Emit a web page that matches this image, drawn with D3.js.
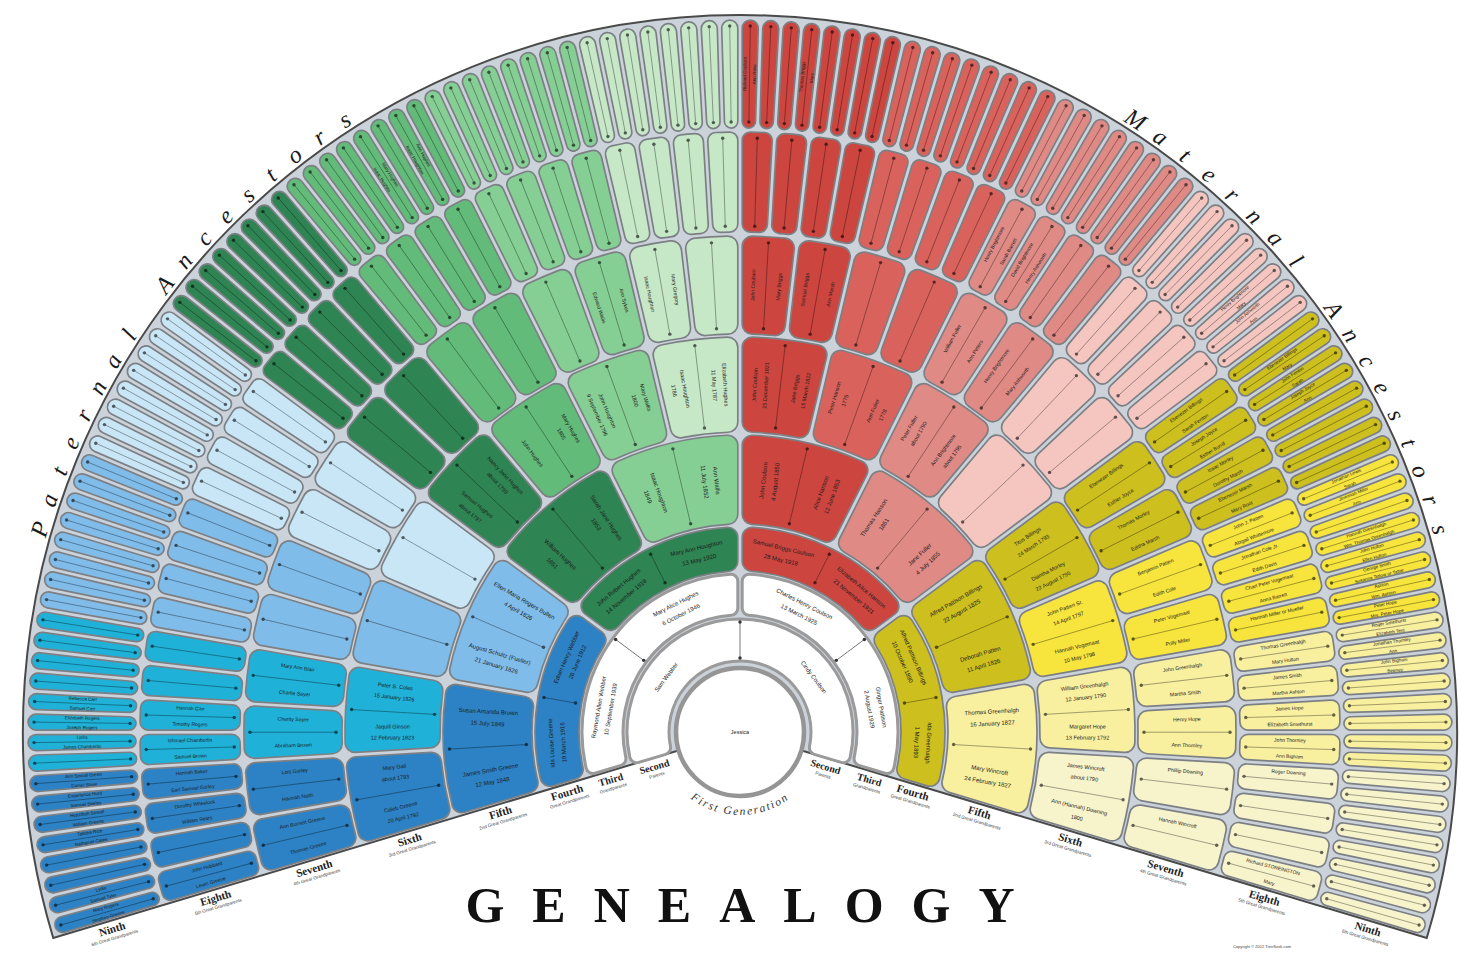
<!DOCTYPE html>
<html>
<head>
<meta charset="utf-8">
<script src="https://cdn.jsdelivr.net/npm/d3@7"></script>
<style>
  body { margin: 0; background: #fff; }
  svg { display: block; }
</style>
</head>
<body>
<svg id="chart" width="1459" height="953"></svg>
<script>
// ---- data ----
const generationOrdinals = ['Second', 'Third', 'Fourth', 'Fifth', 'Sixth', 'Seventh', 'Eighth', 'Ninth'];
const generationTitles = ['Parents', 'Grandparents', 'Great Grandparents', '2nd Great Grandparents',
  '3rd Great Grandparents', '4th Great Grandparents', '5th Great Grandparents', '6th Great Grandparents'];
const ringCells = [1, 2, 4, 8, 16, 32, 64, 128];
const ringInner = [71, 117, 161, 208, 300, 398, 500, 604];
const ringOuter = [113, 158, 205, 297, 395, 496, 600, 712];

// 16 branch colours, clockwise from the lower left
const branchColors = [
  '#2c82c4', '#1fb1d8', '#80bce9', '#c8e6f6',
  '#2e8452', '#62bb78', '#86cf94', '#c6e8c7',
  '#cd453f', '#d9625c', '#e08a85', '#f5c6c0',
  '#cdbf1e', '#f7e43c', '#f8ef9f', '#f7f3cb'
];

// couples: [cell index, first person, second person], lines split by "|"
const gen2Names = [[0, 'Sam Webber', 'Cindy Coulson']];
const gen3Names = [
  [0, 'Raymond Allen Webber|10 September 1939', 'Mary Alice Hughes|6 October 1946'],
  [1, 'Charles Henry Coulson|13 March 1925', 'Ginger Pattison|2 August 1929']
];
const gen4Names = [
  [0, 'Ida Louise Greene|19 March 1916', 'Edwin Henry Webber|26 June 1912'],
  [1, 'John Robert Hughes|14 November 1918', 'Mary Ann Houghton|13 May 1920'],
  [2, 'Samuel Briggs Coulson|28 May 1918', 'Elizabeth Alice Hanson|21 November 1921'],
  [3, 'Alfred Pattison Billings|10 October 1890', 'Ida Greenhalgh|1 May 1893']
];
const gen5Names = [
  [0, 'James Smith Greene|12 May 1848', 'Susan Amanda Brown|15 July 1849'],
  [1, 'August Schultz (Fueller)|21 January 1826', 'Ellen Maria Rogers Bullen|4 April 1826'],
  [2, 'William Hughes|1851', 'Sarah Jane Hughes|1853'],
  [3, 'Isaac Houghton|1849', 'Ann Wallis|11 July 1852'],
  [4, 'John Coulson|4 August 1850', 'Alice Hanson|12 June 1853'],
  [5, 'Thomas Hanson|1851', 'Jane Fuller|4 July 1855'],
  [6, 'Alfred Pattison Billings|22 August 1825', 'Deborah Patten|11 April 1826'],
  [7, 'Thomas Greenhalgh|16 January 1827', 'Mary Wincroft|24 February 1827']
];
const gen6Names = [
  [0, 'Caleb Greene|20 April 1792', 'Mary Gall|about 1793'],
  [1, 'Jaquill Ginson|12 February 1823', 'Peter S. Coles|15 January 1826'],
  [4, 'Samuel Hughes|about 1797', 'Nancy Jane Hughes|about 1799'],
  [5, 'John Hughes', 'Mary Hughes|1805'],
  [6, 'John Houghton|9 September 1796', 'Mary Wallis|1800'],
  [7, 'Isaac Houghton|1786', 'Elizabeth Hughes|11 May 1787'],
  [8, 'John Coulson|25 December 1821', 'Jane Briggs|15 March 1822'],
  [9, 'Peter Hanson|1775', 'Ann Fuller|1778'],
  [10, 'Peter Fuller|about 1790', 'Ann Brightmore|about 1795'],
  [12, 'Titus Billings|24 March 1793', 'Diantha Morley|22 August 1795'],
  [13, 'John Patten Sr.|14 April 1797', 'Hannah Vogemaat|10 May 1798'],
  [14, 'William Greenhalgh|12 January 1790', 'Margaret Hope|13 February 1792'],
  [15, 'James Wincroft|about 1790', 'Ann (Hannah) Downing|1800']
];
const gen7Names = [
  [0, 'Thomas Greene', 'Ann Burnett Greene'],
  [1, 'Hannah Nash', 'Lois Gurley'],
  [2, 'Abraham Brown', 'Charity Sayer'],
  [3, 'Charlie Sayer', 'Mary Ann Blair'],
  [13, 'Edward Wallis', 'Ann Sykes'],
  [14, 'Isaac Houghton', 'Mary Gregory'],
  [16, 'John Coulson', 'Mary Briggs'],
  [17, 'Samuel Briggs', 'Ann Marsh'],
  [20, 'William Fuller', 'Ann Peters'],
  [21, 'Henry Brightmore', 'Mary Ashworth'],
  [24, 'Ebenezer Billings', 'Esther Joyce'],
  [25, 'Thomas Morley', 'Editha Marsh'],
  [26, 'Benjamin Patten', 'Edith Cole'],
  [27, 'Peter Vogemaat', 'Polly Miller'],
  [28, 'John Greenhalgh', 'Martha Smith'],
  [29, 'Henry Hope', 'Ann Thornley'],
  [30, 'Phillip Downing', ''],
  [31, 'Hannah Wincroft', '']
];
const gen8Names = [
  [0, 'Lewis Greene', 'John Hubbard'],
  [2, 'William Sears', 'Dorothy Wheelock'],
  [3, 'Earl Samuel Gurley', 'Hannah Baker'],
  [4, 'Samuel Brown', 'Ishmael Chamberlin'],
  [5, 'Timothy Rogers', 'Hannah Carr'],
  [40, 'Henry Brightmore', 'Sarah Barrett'],
  [41, 'David Brightmore', 'Henry Ashworth'],
  [48, 'Ebenezer Billings', 'Sarah Fenton'],
  [49, 'Joseph Joyce', 'Esther Burrill'],
  [50, 'Isaac Morley', 'Dorothy Marsh'],
  [51, 'Ebenezer Marsh', 'Mary Root'],
  [52, 'John J. Patten', 'Abigail Whittemore'],
  [53, 'Jonathan Cole Jr.', 'Edith Davis'],
  [54, 'Chart Peter Vogemaat', 'Anna Barrett'],
  [55, 'Hannah Miller or Mueller', ''],
  [56, 'Thomas Greenhalgh', 'Mary Hulton'],
  [57, 'James Smith', 'Martha Ashton'],
  [58, 'James Hope', 'Elizabeth Smethurst'],
  [59, 'John Thornley', 'Ann Bigham'],
  [60, 'Roger Downing', ''],
  [63, 'Richard STOREINGTON', 'Mary']
];
const gen9Names = [
  [0, 'Stephen Greene', 'Mary Rogers'],
  [1, 'Samuel Tyler', 'Lydia'],
  [4, 'Nathaniel Gates', 'Tabitha Rice'],
  [5, 'William Greene', 'Hepzibah Sewall'],
  [6, 'Samuel Seeley', 'Experience Hurd'],
  [7, 'Daniel Shaw', 'Ann Sewall Green'],
  [9, 'James Chamberlin', 'Lydia'],
  [10, 'Joseph Rogers', 'Elizabeth Rogers'],
  [11, 'Samuel Carr', 'Rebecca Carr'],
  [44, 'Isaac Hughes', 'Mary Hughes'],
  [46, 'Isaac Houghton', 'Ann Hughes'],
  [64, 'Richard Coulson', 'Ann Rose'],
  [67, 'Thomas Briggs', 'Mary'],
  [93, 'Henry Brightmore', 'Mary'],
  [94, 'John Ashworth', 'Ann'],
  [97, 'Ebenezer Billings', 'Mary'],
  [98, 'John Fenton', 'Sarah'],
  [99, 'Joseph Joyce', 'Ann'],
  [104, 'Jonathan Lewis', 'Sarah'],
  [105, 'Jeremiah Miller', 'Ann'],
  [107, 'Hannah Greenhalgh', 'Wm. Thomas Greenhalgh'],
  [108, 'John Hulton', 'Ellen Hulton'],
  [109, 'George Smith', 'Susanna Tetlow or Tattar'],
  [110, 'Ashton', 'Wm. Ashton'],
  [111, 'Peter Hope', 'Mrs. Peter Hope'],
  [112, 'Roger Smethurst', 'Elizabeth Tent'],
  [113, 'Jonathan Thornley', 'Ann'],
  [114, 'John Bigham', 'Beeney']
];
const cellNames = [gen2Names, gen3Names, gen4Names, gen5Names, gen6Names, gen7Names, gen8Names, gen9Names];

const sideTitles = ['Paternal Ancestors', 'Maternal Ancestors'];
const centerName = 'Jessica';

// ---- layout ----
const CX = 740, CY = 732;
const SPAN = 106.7 * Math.PI / 180;
const OUTER = 717;

const svg = d3.select('#chart');
const root = svg.append('g').attr('transform', `translate(${CX},${CY})`);

const rad = a => a * 180 / Math.PI;
const polar = (r, a) => [r * Math.sin(a), -r * Math.cos(a)];

// background fan
root.append('path')
  .attr('d', d3.arc()({ innerRadius: 40, outerRadius: OUTER, startAngle: -SPAN, endAngle: SPAN }))
  .attr('fill', '#cbd2da')
  .attr('stroke', '#4a4a4a')
  .attr('stroke-width', 2);

// cells
const cells = [];
ringCells.forEach((n, ri) => {
  const angle = d3.scaleLinear().domain([0, n]).range([-SPAN, SPAN]);
  const lookup = new Map(cellNames[ri].map(c => [c[0], c]));
  d3.range(n).forEach(i => {
    const named = lookup.get(i);
    cells.push({
      ring: ri,
      gen: ri + 2,
      i,
      n,
      a0: angle(i),
      a1: angle(i + 1),
      r0: ringInner[ri],
      r1: ringOuter[ri],
      fill: ri < 2 ? '#ffffff' : branchColors[Math.floor(i * 16 / n)],
      people: named ? [named[1], named[2]] : null
    });
  });
});

const gapPx = 4.4;
const arc = d3.arc()
  .innerRadius(d => d.r0)
  .outerRadius(d => d.r1)
  .startAngle(d => d.a0)
  .endAngle(d => d.a1)
  .padRadius(400)
  .padAngle(d => (d.n === 1 ? 0 : gapPx / 400))
  .cornerRadius(d => (d.ring >= 6 ? 8 : d.ring < 2 ? 7 : 10));

const cellG = root.selectAll('g.cell')
  .data(cells)
  .join('g')
  .attr('class', 'cell');

cellG.append('path')
  .attr('d', arc)
  .attr('fill', d => d.fill)
  .attr('stroke', d => (d.ring < 2 ? '#9a9a9a' : '#7c8085'))
  .attr('stroke-width', d => (d.ring < 2 ? 3 : 1.7));

// divider between the two persons of a couple
cellG.each(function (d) {
  const g = d3.select(this);
  const am = (d.a0 + d.a1) / 2;
  const inset = d.ring < 2 ? 3 : 6;
  const p0 = polar(d.r0 + inset, am);
  const p1 = polar(d.r1 - inset, am);
  const base = d3.color(d.fill);
  const lineCol = d.ring < 2 ? '#555' : base.darker(1.6).formatHex();
  const dotCol = d.ring < 2 ? '#333' : base.darker(2.6).formatHex();
  g.append('line')
    .attr('x1', p0[0]).attr('y1', p0[1])
    .attr('x2', p1[0]).attr('y2', p1[1])
    .attr('stroke', lineCol)
    .attr('stroke-width', 0.8);
  [p0, p1].forEach(p => {
    g.append('circle').attr('cx', p[0]).attr('cy', p[1]).attr('r', 1.7).attr('fill', dotCol);
  });
});

// names
const fontSizes = [6, 6, 6, 6, 5.5, 5.2, 5, 4.6];
cellG.filter(d => d.people).each(function (d) {
  const g = d3.select(this);
  const radial = d.ring >= 3;
  const fs = fontSizes[d.ring];
  d.people.forEach((person, p) => {
    if (!person) return;
    const a = d.a0 + (p + 0.5) * (d.a1 - d.a0) / 2;
    const rm = (d.r0 + d.r1) / 2;
    const [x, y] = polar(rm, a);
    const deg = rad(a);
    const rot = radial ? (deg < 0 ? deg + 90 : deg - 90) : deg;
    const lines = person.split('|');
    const step = lines.length > 1 ? fs * 2 : 0;
    const t = g.append('text')
      .attr('transform', `translate(${x},${y}) rotate(${rot})`)
      .attr('text-anchor', 'middle')
      .attr('font-family', 'Liberation Sans, Arial, sans-serif')
      .attr('font-size', fs)
      .attr('fill', '#1d1d1d');
    lines.forEach((ln, k) => {
      t.append('tspan')
        .attr('x', 0)
        .attr('y', (k - (lines.length - 1) / 2) * step + fs * 0.35)
        .text(ln);
    });
  });
});

// centre circle
root.append('circle')
  .attr('r', 64)
  .attr('fill', '#fff')
  .attr('stroke', '#959595')
  .attr('stroke-width', 4.5);
root.append('text')
  .attr('text-anchor', 'middle')
  .attr('y', 2)
  .attr('font-family', 'Liberation Sans, Arial, sans-serif')
  .attr('font-size', 5.5)
  .attr('fill', '#222')
  .text(centerName);

// curved "First Generation"
const defs = svg.append('defs');
const fgR = 83;
const fgA = d3.path();
fgA.arc(0, 0, fgR, Math.PI * 0.5 + 1.0, Math.PI * 0.5 - 1.0, true);
defs.append('path').attr('id', 'fgPath').attr('d', fgA.toString());
root.append('text')
  .attr('font-family', 'Liberation Serif, serif')
  .attr('font-style', 'italic')
  .attr('font-size', 11.5)
  .attr('letter-spacing', 1.8)
  .attr('fill', '#333')
  .append('textPath')
  .attr('href', '#fgPath')
  .attr('startOffset', '50%')
  .attr('text-anchor', 'middle')
  .text('First Generation');

// side titles along the rim, one glyph at a time so no trailing spacing pokes out
const titleR = 721;
const titleSpread = 41 * Math.PI / 180;
sideTitles.forEach((label, s) => {
  const mid = (s === 0 ? -1 : 1) * SPAN / 2;
  const chars = label.split('');
  const pos = d3.scaleLinear().domain([0, chars.length - 1])
    .range([mid - titleSpread / 2, mid + titleSpread / 2]);
  root.append('g')
    .selectAll('text')
    .data(chars.map((c, k) => ({ c, k })).filter(d => d.c !== ' '))
    .join('text')
    .attr('transform', d => {
      const [x, y] = polar(titleR, pos(d.k));
      return `translate(${x},${y}) rotate(${rad(pos(d.k))})`;
    })
    .attr('text-anchor', 'middle')
    .attr('font-family', 'Liberation Serif, serif')
    .attr('font-style', 'italic')
    .attr('font-size', 24)
    .attr('fill', '#1a1a1a')
    .text(d => d.c);
});

// generation labels along both lower edges
generationOrdinals.forEach((ord, ri) => {
  const rm = (ringInner[ri] + ringOuter[ri]) / 2;
  [-1, 1].forEach(side => {
    const a = side * SPAN;
    const [ex, ey] = polar(rm, a);
    const edgeDeg = side * (rad(SPAN) - 90);
    // unit normal pointing away from the fan
    const nx = -side * Math.cos(SPAN);
    const ny = Math.sin(SPAN);
    const g = root.append('g')
      .attr('transform', `translate(${ex - nx * 12},${ey + ny * 12}) rotate(${edgeDeg})`);
    g.append('text')
      .attr('text-anchor', 'middle')
      .attr('font-family', 'Liberation Serif, serif')
      .attr('font-weight', 'bold')
      .attr('font-size', ri < 2 ? 10 : 11)
      .attr('fill', '#222')
      .text(ord);
    g.append('text')
      .attr('text-anchor', 'middle')
      .attr('y', 7)
      .attr('font-family', 'Liberation Sans, Arial, sans-serif')
      .attr('font-size', 4.6)
      .attr('fill', '#444')
      .text(generationTitles[ri]);
  });
});

// title
svg.append('text')
  .attr('x', 740 + 14)
  .attr('y', 922)
  .attr('text-anchor', 'middle')
  .attr('font-family', 'Liberation Serif, serif')
  .attr('font-weight', 'bold')
  .attr('font-size', 50)
  .attr('letter-spacing', 28)
  .attr('fill', '#111')
  .text('GENEALOGY');

svg.append('text')
  .attr('x', 1262)
  .attr('y', 948)
  .attr('text-anchor', 'middle')
  .attr('font-family', 'Liberation Sans, Arial, sans-serif')
  .attr('font-size', 4)
  .attr('fill', '#444')
  .text('Copyright \u00a9 2012 TreeSeek.com');
</script>
</body>
</html>
